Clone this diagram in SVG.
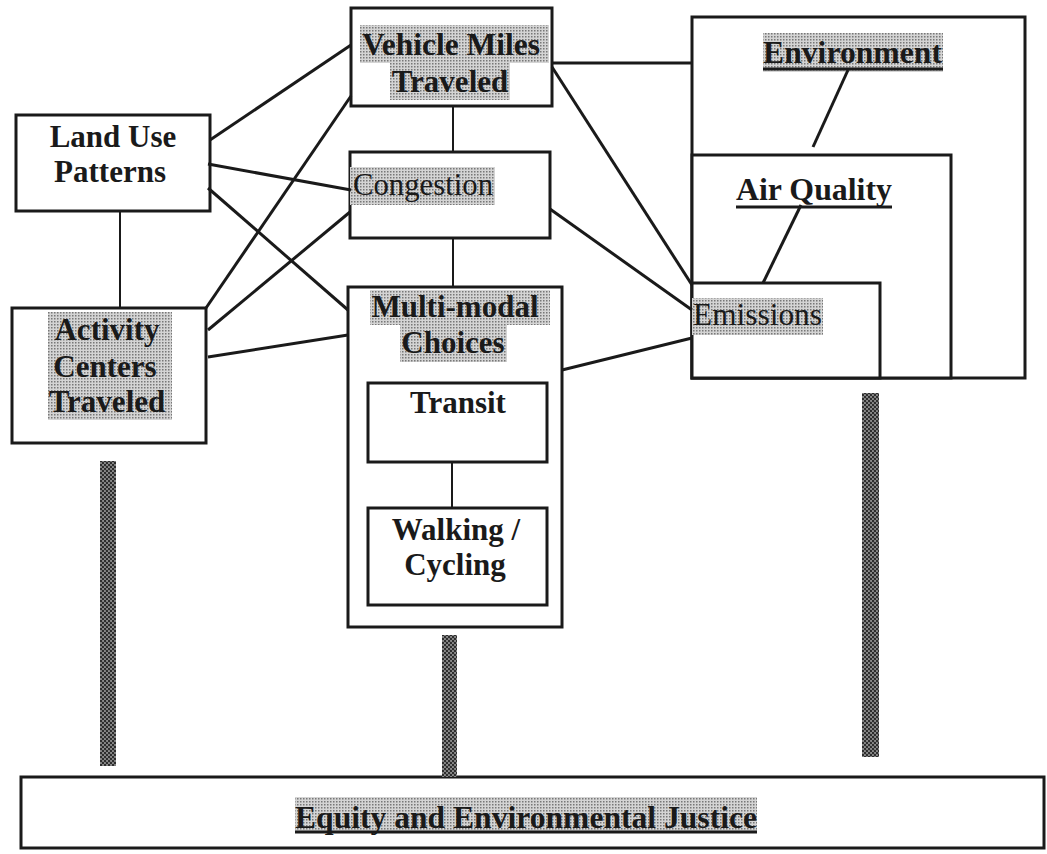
<svg xmlns="http://www.w3.org/2000/svg" width="1047" height="854" viewBox="0 0 1047 854">
<defs>
<pattern id="hl" width="3" height="3" patternUnits="userSpaceOnUse">
<rect width="3" height="3" fill="#d4d4d4"/>
<rect x="0" y="0" width="1.5" height="1.5" fill="#777"/>
</pattern>
<pattern id="bar" width="4" height="4" patternUnits="userSpaceOnUse">
<rect width="4" height="4" fill="#8a8a8a"/>
<circle cx="1" cy="1" r="1.2" fill="#2a2a2a"/>
<circle cx="3" cy="3" r="1.2" fill="#2a2a2a"/>
</pattern>
</defs>
<style>
.box{fill:#fff;stroke:#1a1a1a;stroke-width:3}
.c{stroke:#1a1a1a;stroke-width:3;fill:none}
.ct{stroke:#1a1a1a;stroke-width:2;fill:none}
.hl{fill:url(#hl)}
.bar{fill:url(#bar)}
.b{font-family:"Liberation Serif","Times New Roman",serif;font-weight:bold;font-size:31px;fill:#1a1a1a}
.r{font-family:"Liberation Serif","Times New Roman",serif;font-size:31px;fill:#1a1a1a}
.m{text-anchor:middle}
.ul{stroke:#1a1a1a;stroke-width:3}
</style>
<rect width="1047" height="854" fill="#fff"/>

<g id="environment">
<rect class="box" x="692" y="17" width="333" height="361"/>
<rect class="hl" x="763" y="33" width="180" height="39"/>
<text class="b" x="763" y="63" textLength="179" lengthAdjust="spacingAndGlyphs">Environment</text>
<line class="ul" x1="763" y1="69" x2="943" y2="69"/>
</g>
<g id="air-quality">
<rect class="box" x="692" y="155" width="259" height="223"/>
<text class="b" x="736" y="200" textLength="156" lengthAdjust="spacingAndGlyphs">Air Quality</text>
<line class="ul" x1="736" y1="207" x2="892" y2="207"/>
</g>
<g id="emissions">
<rect class="box" x="692" y="283" width="188" height="95"/>
<rect class="hl" x="692" y="298" width="131" height="37"/>
<text class="r" x="693" y="325" textLength="129" lengthAdjust="spacingAndGlyphs">Emissions</text>
</g>

<g id="land-use">
<rect class="box" x="16" y="115" width="194" height="96"/>
<text class="b m" x="113" y="147">Land Use</text>
<text class="b m" x="110" y="182">Patterns</text>
</g>
<g id="activity-centers">
<rect class="box" x="12" y="308" width="194" height="135"/>
<rect class="hl" x="48" y="312" width="124" height="108"/>
<text class="b m" x="107" y="340">Activity</text>
<text class="b m" x="105" y="377">Centers</text>
<text class="b m" x="107" y="412">Traveled</text>
</g>
<g id="vmt">
<rect class="box" x="351" y="8" width="201" height="98"/>
<rect class="hl" x="360" y="25" width="189" height="38"/>
<rect class="hl" x="390" y="63" width="120" height="37"/>
<text class="b m" x="451" y="55" textLength="178" lengthAdjust="spacingAndGlyphs">Vehicle Miles</text>
<text class="b m" x="450" y="92">Traveled</text>
</g>
<g id="congestion">
<rect class="box" x="350" y="152" width="200" height="86"/>
<rect class="hl" x="350" y="167" width="145" height="38"/>
<text class="r" x="353" y="195" textLength="140" lengthAdjust="spacingAndGlyphs">Congestion</text>
</g>
<g id="multi-modal">
<rect class="box" x="348" y="287" width="214" height="340"/>
<rect class="hl" x="370" y="290" width="180" height="35"/>
<rect class="hl" x="400" y="325" width="107" height="37"/>
<text class="b m" x="455" y="317">Multi-modal</text>
<text class="b m" x="453" y="353">Choices</text>
</g>
<g id="transit">
<rect class="box" x="368" y="383" width="179" height="79"/>
<text class="b m" x="458" y="413">Transit</text>
</g>
<g id="walking">
<rect class="box" x="368" y="508" width="179" height="97"/>
<text class="b m" x="456" y="540">Walking /</text>
<text class="b m" x="455" y="575">Cycling</text>
</g>
<g id="equity">
<rect class="box" x="21" y="777" width="1023" height="71"/>
<rect class="hl" x="295" y="797" width="462" height="36"/>
<text class="b" x="295" y="828" textLength="462" lengthAdjust="spacingAndGlyphs" font-size="34">Equity and Environmental Justice</text>
<line class="ul" x1="295" y1="832" x2="757" y2="832"/>
</g>

<g id="connectors">
<line class="c" x1="210" y1="140" x2="351" y2="45"/>
<line class="c" x1="208" y1="164" x2="351" y2="190"/>
<line class="c" x1="208" y1="188" x2="348" y2="310"/>
<line class="c" x1="206" y1="308" x2="351" y2="96"/>
<line class="c" x1="208" y1="330" x2="350" y2="212"/>
<line class="c" x1="208" y1="357" x2="348" y2="335"/>
<line class="ct" x1="120" y1="211" x2="120" y2="308"/>
<line class="ct" x1="453" y1="106" x2="453" y2="152"/>
<line class="ct" x1="453" y1="238" x2="453" y2="287"/>
<line class="ct" x1="452" y1="462" x2="452" y2="508"/>
<line class="c" x1="552" y1="63" x2="692" y2="63"/>
<line class="c" x1="552" y1="67" x2="692" y2="285"/>
<line class="c" x1="550" y1="209" x2="692" y2="310"/>
<line class="c" x1="562" y1="370" x2="692" y2="338"/>
<line class="c" x1="848" y1="70" x2="813" y2="147"/>
<line class="c" x1="801" y1="205" x2="763" y2="283"/>
<rect class="bar" x="100" y="461" width="16" height="305"/>
<rect class="bar" x="442" y="635" width="15" height="142"/>
<rect class="bar" x="862" y="393" width="17" height="364"/>
</g>
</svg>
